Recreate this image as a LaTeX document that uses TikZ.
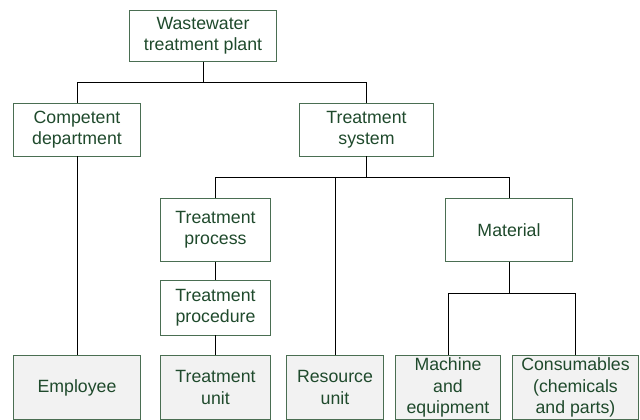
\documentclass[tikz,border=0pt]{standalone}
\usepackage{fontspec}
\setmainfont{Liberation Sans}
\usepackage{tikz}
\usetikzlibrary{positioning, calc}
\definecolor{PlantLine}{HTML}{4A6E52}
\definecolor{PlantText}{HTML}{1F4A2C}
\definecolor{PlantLeaf}{HTML}{F2F2F2}

\tikzset{
  unitbox/.style={draw=PlantLine, line width=0.7pt, fill=white, text=PlantText,
    align=center, font=\fontsize{12.6}{15}\selectfont, inner sep=2pt},
  leafbox/.style={unitbox, fill=PlantLeaf},
  wire/.style={draw=black, line width=0.6pt}
}

\begin{document}
\begin{tikzpicture}[x=0.025cm, y=-0.025cm]
      \useasboundingbox (0,0) rectangle (640,420);
      %% Top level
      \node[unitbox, minimum width=3.65cm, minimum height=1.275cm] (plant) at (203,36) {Wastewater\\treatment plant};
      %% Second level
      \node[unitbox, minimum width=3.15cm, minimum height=1.325cm] (dept) at (77,129.5) {Competent\\department};
      \node[unitbox, minimum width=3.325cm, minimum height=1.325cm] (tsys) at (366.5,129.5) {Treatment\\system};
      %% Third level
      \node[unitbox, minimum width=2.725cm, minimum height=1.575cm] (tproc) at (215.5,229.8) {Treatment\\process};
      \node[unitbox, minimum width=3.15cm, minimum height=1.575cm] (mat) at (509,229.8) {Material};
      \node[unitbox, minimum width=2.725cm, minimum height=1.375cm] (tprocd) at (215.5,307.5) {Treatment\\procedure};
      %% Bottom row
      \node[leafbox, minimum width=3.15cm, minimum height=1.59cm] (empl) at (77,387.5) {Employee};
      \node[leafbox, minimum width=2.725cm, minimum height=1.59cm] (tunit) at (215.5,387.5) {Treatment\\unit};
      \node[leafbox, minimum width=2.425cm, minimum height=1.59cm] (resu) at (335,387.5) {Resource\\unit};
      \node[leafbox, minimum width=2.625cm, minimum height=1.59cm] (mach) at (448,387.5) {Machine\\and\\equipment};
      \node[leafbox, minimum width=3.125cm, minimum height=1.59cm] (cons) at (575.5,387.5) {Consumables\\(chemicals\\and parts)};
      %% Junctions
      \coordinate (j1) at (203,82.5);
      \coordinate (j2) at (366.5,177.3);
      \coordinate (j3) at (509,293.7);
      %% Connectors
      \draw[wire] (plant.south) -- (j1);
      \draw[wire] (dept.north) |- (j1) -| (tsys.north);
      \draw[wire] (dept.south) -- (empl.north);
      \draw[wire] (tsys.south) -- (j2);
      \draw[wire] (tproc.north) |- (j2) -| (mat.north);
      \draw[wire] (resu.north) -- (resu.north |- j2);
      \draw[wire] (tproc.south) -- (tprocd.north);
      \draw[wire] (tprocd.south) -- (tunit.north);
      \draw[wire] (mat.south) -- (j3);
      \draw[wire] (mach.north) |- (j3) -| (cons.north);
    \end{tikzpicture}
\end{document}
